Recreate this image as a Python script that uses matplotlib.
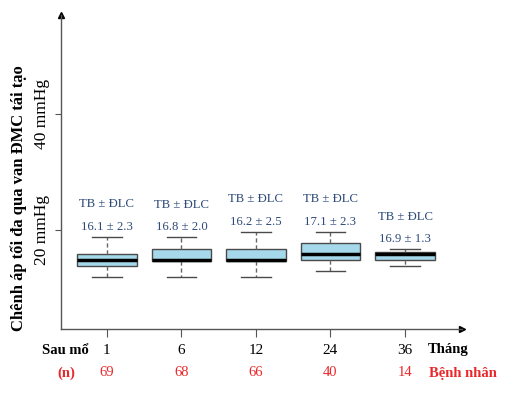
import matplotlib
matplotlib.use("Agg")
import matplotlib.pyplot as plt
from matplotlib import transforms

# follow-up months and patients
months = ["1", "6", "12", "24", "36"]
n_patients = [69, 68, 66, 40, 14]
means = [16.1, 16.8, 16.2, 17.1, 16.9]
sds = [2.3, 2.0, 2.5, 2.3, 1.3]

# box statistics (mmHg)
whis_lo = [11.9, 11.9, 11.9, 12.9, 13.8]
q1 = [13.8, 14.7, 14.65, 14.8, 14.8]
medians = [14.8, 14.8, 14.8, 15.85, 15.9]
q3 = [15.85, 16.7, 16.7, 17.7, 16.25]
whis_hi = [18.8, 18.75, 19.7, 19.7, 16.7]

# y ticks
ytick_vals = [20, 40]
ytick_labels = ["20 mmHg", "40 mmHg"]

SERIF = "Liberation Serif"
NAVY = "#2d4a7a"
RED = "#e8282b"
GREY = "#555555"

plt.rcParams["font.family"] = [SERIF, "DejaVu Serif"]

fig = plt.figure(figsize=(5.06, 3.96), dpi=100)
ax = fig.add_axes([61 / 506, 67 / 396, 401 / 506, 314 / 396])

stats = []
for i in range(len(months)):
    stats.append({"whislo": whis_lo[i], "q1": q1[i], "med": medians[i],
                  "q3": q3[i], "whishi": whis_hi[i], "fliers": []})

pos = list(range(len(months)))
ax.bxp(stats, positions=pos, widths=0.8, patch_artist=True, showfliers=False,
       boxprops=dict(facecolor="#a4d8ea", edgecolor="#4a4a4a", linewidth=1.0),
       medianprops=dict(color="black", linewidth=2.5),
       whiskerprops=dict(color="#666666", linestyle=(0, (3, 2)), linewidth=1.0),
       capprops=dict(color="#4a4a4a", linewidth=1.0), capwidths=0.4)

ax.set_xlim(-0.617, 4.765)
ax.set_ylim(2.9, 57.1)

# mean ± SD labels above each box
for i in range(len(months)):
    ax.annotate(f"{means[i]:.1f} ± {sds[i]:.1f}", (pos[i], whis_hi[i]),
                xytext=(0, 3), textcoords="offset points", ha="center", va="bottom",
                fontsize=9.2, color=NAVY)
    ax.annotate("TB ± ĐLC", (pos[i], whis_hi[i]),
                xytext=(0, 19), textcoords="offset points", ha="center", va="bottom",
                fontsize=9.2, color=NAVY)

# axes styling
for s in ["top", "right"]:
    ax.spines[s].set_visible(False)
for s in ["left", "bottom"]:
    ax.spines[s].set_color(GREY)
    ax.spines[s].set_linewidth(1.0)
ax.plot(1, 0, ">", color="black", ms=4, transform=ax.transAxes, clip_on=False)
ax.plot(0, 1, "^", color="black", ms=4, transform=ax.transAxes, clip_on=False)

ax.set_yticks(ytick_vals)
ax.set_yticklabels(ytick_labels, rotation=90, va="center", fontsize=12.5)
ax.tick_params(axis="y", length=4, color=GREY, pad=4)

ax.set_xticks(pos)
ax.set_xticklabels(months, fontsize=11)
ax.tick_params(axis="x", length=6, color=GREY, pad=5)

fig.text(19 / 506, 1 - 198 / 396, "Chênh áp tối đa qua van ĐMC tái tạo",
         rotation=90, ha="center", va="center", fontsize=12, fontweight="bold")

# row labels under the axis
tr = transforms.blended_transform_factory(ax.transData, ax.transAxes)
for i in range(len(months)):
    ax.text(pos[i], -0.140, str(n_patients[i]), transform=tr, ha="center",
            va="center", fontsize=10.5, color=RED)

fig.text(65 / 506, 1 - 350 / 396, "Sau mổ", ha="center", va="center",
         fontsize=10.5, fontweight="bold")
fig.text(448 / 506, 1 - 350 / 396, "Tháng", ha="center", va="center",
         fontsize=10.5, fontweight="bold")
fig.text(66 / 506, 1 - 373 / 396, "(n)", ha="center", va="center",
         fontsize=10.5, fontweight="bold", color=RED)
fig.text(463 / 506, 1 - 373 / 396, "Bệnh nhân", ha="center", va="center",
         fontsize=10.5, fontweight="bold", color=RED)

fig.savefig("out.png", dpi=100)
